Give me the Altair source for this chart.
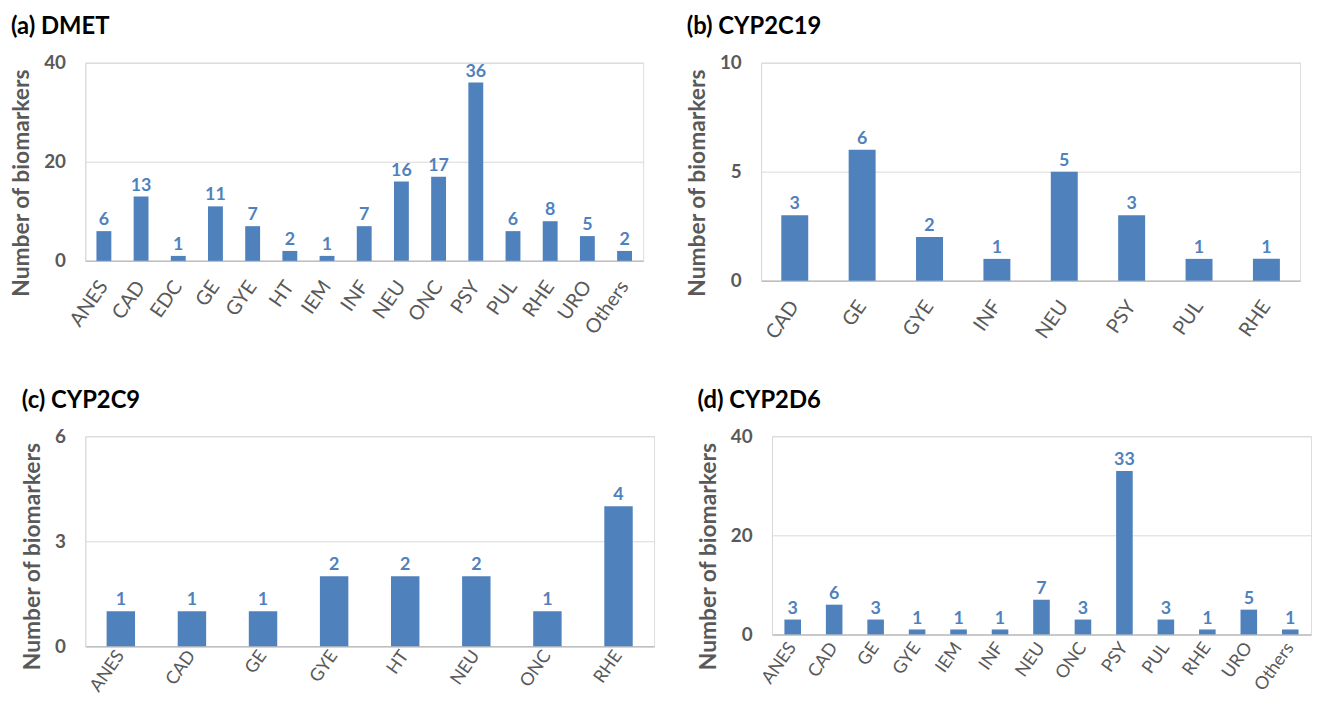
import altair as alt
import pandas as pd

# ---- data ----
a_cats = ["ANES", "CAD", "EDC", "GE", "GYE", "HT", "IEM", "INF", "NEU", "ONC", "PSY", "PUL", "RHE", "URO", "Others"]
a_vals = [6, 13, 1, 11, 7, 2, 1, 7, 16, 17, 36, 6, 8, 5, 2]

b_cats = ["CAD", "GE", "GYE", "INF", "NEU", "PSY", "PUL", "RHE"]
b_vals = [3, 6, 2, 1, 5, 3, 1, 1]

c_cats = ["ANES", "CAD", "GE", "GYE", "HT", "NEU", "ONC", "RHE"]
c_vals = [1, 1, 1, 2, 2, 2, 1, 4]

d_cats = ["ANES", "CAD", "GE", "GYE", "IEM", "INF", "NEU", "ONC", "PSY", "PUL", "RHE", "URO", "Others"]
d_vals = [3, 6, 3, 1, 1, 1, 7, 3, 33, 3, 1, 5, 1]

BLUE = "#4F81BD"
GREY = "#595959"
FONT = "Lato"


def panel(cats, vals, title, ticks, w, h, xfont=20, xpad=22):
    df = pd.DataFrame({"cat": cats, "val": vals})
    base = alt.Chart(df).encode(
        x=alt.X(
            "cat:N",
            sort=cats,
            scale=alt.Scale(paddingInner=0.6, paddingOuter=0.3),
            axis=alt.Axis(
                title=None,
                labelAngle=-55,
                labelAlign="right",
                labelBaseline="middle",
                labelFontSize=xfont,
                labelColor=GREY,
                labelFont=FONT,
                labelPadding=xpad,
                ticks=False,
                tickSize=0,
                domainColor="#BFBFBF",
                domainWidth=1.5,
                grid=False,
            ),
        ),
        y=alt.Y(
            "val:Q",
            scale=alt.Scale(domain=[ticks[0], ticks[-1]], nice=False),
            axis=alt.Axis(
                title="Number of biomarkers",
                values=ticks,
                labelFontSize=19,
                labelFontWeight="bold",
                labelColor=GREY,
                labelFont=FONT,
                labelPadding=20,
                ticks=False,
                tickSize=0,
                domainColor="#D9D9D9",
                gridColor="#D9D9D9",
                titleFontSize=23,
                titleFontWeight="bold",
                titleColor=GREY,
                titleFont=FONT,
                titlePadding=10,
                titleY=121,
            ),
        ),
    )
    bars = base.mark_bar(color=BLUE)
    labels = base.mark_text(
        dy=-6, baseline="alphabetic", fontSize=18, fontWeight="bold", color=BLUE, font=FONT
    ).encode(text="val:Q")
    return alt.layer(bars, labels).properties(
        width=w,
        height=h,
        title=alt.Title(
            title, anchor="start", frame="bounds", fontSize=24, fontWeight="bold",
            color="black", font=FONT, offset=15,
        ),
    )


pa = panel(a_cats, a_vals, "(a) DMET", [0, 20, 40], 563, 200)
pb = panel(b_cats, b_vals, "(b) CYP2C19", [0, 5, 10], 544, 220)
pc = panel(c_cats, c_vals, "(c) CYP2C9", [0, 3, 6], 574, 212, xfont=18, xpad=6)
pd_ = panel(d_cats, d_vals, "(d) CYP2D6", [0, 20, 40], 544, 200, xfont=18, xpad=10)

row1 = alt.hconcat(pa, pb, spacing=42)
row2 = alt.hconcat(pc, pd_, spacing=42)

chart = alt.concat(row1, row2, columns=1, align="none", spacing=45).properties(
    padding={"left": 2, "top": 3, "right": 0, "bottom": 0}
).configure_view(stroke=None).configure(background="white")

chart.save("out.html", embed_options={"renderer": "svg", "actions": False})
